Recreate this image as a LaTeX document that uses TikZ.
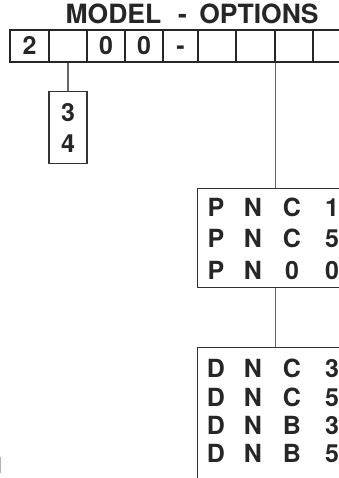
\documentclass[tikz,border=0pt]{standalone}
\usepackage{fontspec}
\setmainfont{TeX Gyre Heros}
\usetikzlibrary{positioning,calc}
\tikzset{
  chr/.style    = {inner sep=0pt, text height=18pt, text depth=0pt,
                   font=\fontsize{25}{30}\selectfont\bfseries, text=black!85},
  ttl/.style    = {chr, text height=19pt, font=\fontsize{26.5}{31}\selectfont\bfseries},
  cell/.style   = {chr, draw=black!85, line width=1.3pt, minimum height=32pt},
  optbox/.style = {draw=black!80, line width=1.3pt, inner sep=0pt},
  lnk/.style    = {draw=black!60, line width=1.3pt},
}

\begin{document}
\begin{tikzpicture}[x=1pt,y=-1pt]
  \useasboundingbox (0,0) rectangle (339,478);
  \clip (0,0) rectangle (339,478);
  % heading
  \node[ttl] (ttlmodel) at (113.5,14) {MODEL};
  \node[ttl] (ttldash)  at (182.5,14) {-};
  \node[ttl] (ttlopt)   at (259,14) {OPTIONS};
  % model number cells
  \foreach \i/\x/\w/\t in {1/29.5/39/2, 2/68/38/, 3/106/38/0, 4/144/38/0,
      5/180.5/35/-, 6/217/38/, 7/255.5/39/, 8/294/38/, 9/332/38/}
    \node[cell, minimum width=\w pt] (c\i) at (\x,46) {\t};
  % first choice
  \node[optbox, minimum width=38pt, minimum height=72pt, below=28pt of c2] (b34) {};
  \node[chr] (d3) at ($(b34.north)+(0,22)$) {3};
  \node[chr] (d4) at ($(b34.north)+(0,53)$) {4};
  \draw[lnk] (c2.south) -- (b34.north);
  % option groups
  \node[optbox, anchor=north west, minimum width=160pt, minimum height=99pt] (pnc) at (197,188) {};
  \node[optbox, anchor=north west, minimum width=160pt, minimum height=134pt] (dnc) at (197,347) {};
  \foreach \r/\y/\a/\b/\c/\d in {1/207/P/N/C/1, 2/238/P/N/C/5, 3/270/P/N/0/0}
    \foreach \k/\x/\t in {1/216/\a, 2/253/\b, 3/292/\c, 4/332/\d}
      \node[chr] (p\r\k) at (\x,\y) {\t};
  \foreach \r/\y/\a/\b/\c/\d in {1/368/D/N/C/3, 2/397/D/N/C/5, 3/425/D/N/B/3, 4/453/D/N/B/5}
    \foreach \k/\x/\t in {1/216/\a, 2/253/\b, 3/292/\c, 4/332/\d}
      \node[chr] (q\r\k) at (\x,\y) {\t};
  \coordinate (tap) at ($(c8.south west)+(1,0)$);
  \draw[lnk] (tap) -- (tap |- pnc.north);
  \draw[lnk] (tap |- pnc.south) -- (tap |- dnc.north);
  % faint trace at the lower left edge
  \draw[black!30, line width=1pt] (0.5,457) -- (0.5,473);
\end{tikzpicture}
\end{document}
